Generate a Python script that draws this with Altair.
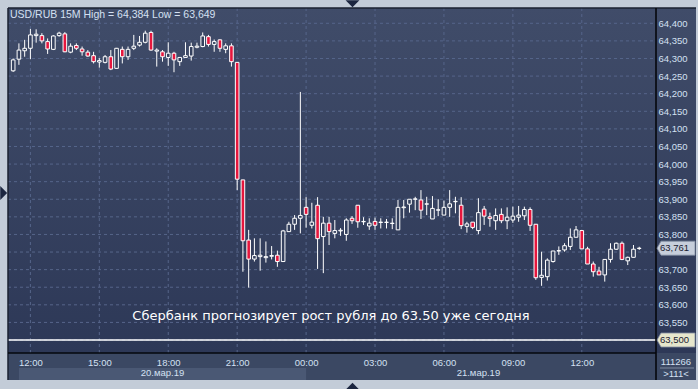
import altair as alt
import pandas as pd

# ---------------- data ----------------
IDX = list(range(-3, 107))  # 15-minute bar number, 0 = 20 Mar 12:00
OPEN = [64.265, 64.298, 64.322, 64.329, 64.365, 64.365, 64.348, 64.326, 64.365, 64.370,
        64.318, 64.337, 64.327, 64.318, 64.308, 64.290, 64.289, 64.305, 64.272, 64.326,
        64.305, 64.329, 64.338, 64.346, 64.374, 64.321, 64.319, 64.303, 64.315, 64.291,
        64.303, 64.307, 64.332, 64.334, 64.362, 64.340, 64.353, 64.326, 64.336, 64.289,
        63.955, 63.784, 63.730, 63.737, 63.734, 63.738, 63.741, 63.723, 63.808, 63.829,
        63.846, 63.877, 63.826, 63.883, 63.794, 63.832, 63.803, 63.810, 63.800, 63.846,
        63.883, 63.836, 63.824, 63.837, 63.834, 63.834, 63.831, 63.813, 63.876, 63.886,
        63.900, 63.898, 63.886, 63.844, 63.869, 63.855, 63.877, 63.893, 63.883, 63.823,
        63.835, 63.811, 63.872, 63.850, 63.839, 63.857, 63.839, 63.841, 63.849, 63.853,
        63.871, 63.829, 63.678, 63.680, 63.723, 63.753, 63.756, 63.766, 63.792, 63.811,
        63.759, 63.716, 63.696, 63.685, 63.729, 63.758, 63.775, 63.725, 63.735, 63.760]
HIGH = [64.300, 64.343, 64.353, 64.384, 64.383, 64.372, 64.357, 64.366, 64.376, 64.375,
        64.343, 64.343, 64.334, 64.324, 64.319, 64.301, 64.310, 64.324, 64.330, 64.334,
        64.334, 64.367, 64.364, 64.379, 64.379, 64.329, 64.324, 64.346, 64.319, 64.303,
        64.346, 64.345, 64.345, 64.374, 64.367, 64.354, 64.354, 64.343, 64.343, 64.289,
        63.955, 63.813, 63.789, 63.789, 63.780, 63.767, 63.754, 63.813, 63.836, 63.855,
        64.205, 63.906, 63.890, 63.906, 63.850, 63.850, 63.841, 63.818, 63.846, 63.852,
        63.883, 63.849, 63.846, 63.848, 63.846, 63.844, 63.846, 63.898, 63.898, 63.900,
        63.907, 63.926, 63.907, 63.909, 63.900, 63.896, 63.926, 63.907, 63.906, 63.836,
        63.835, 63.903, 63.881, 63.862, 63.874, 63.874, 63.877, 63.879, 63.881, 63.879,
        63.877, 63.829, 63.751, 63.732, 63.753, 63.766, 63.775, 63.817, 63.824, 63.813,
        63.765, 63.723, 63.708, 63.729, 63.775, 63.777, 63.780, 63.737, 63.770, 63.765]
LOW = [64.262, 64.282, 64.305, 64.298, 64.345, 64.343, 64.313, 64.324, 64.362, 64.318,
       64.315, 64.324, 64.308, 64.305, 64.286, 64.274, 64.286, 64.267, 64.271, 64.286,
       64.296, 64.324, 64.334, 64.343, 64.322, 64.277, 64.291, 64.279, 64.261, 64.279,
       64.303, 64.294, 64.329, 64.332, 64.334, 64.319, 64.319, 64.315, 64.277, 63.926,
       63.694, 63.649, 63.723, 63.697, 63.720, 63.729, 63.708, 63.723, 63.808, 63.813,
       63.803, 63.819, 63.817, 63.702, 63.690, 63.770, 63.789, 63.796, 63.782, 63.830,
       63.819, 63.827, 63.813, 63.813, 63.817, 63.817, 63.815, 63.813, 63.846, 63.862,
       63.869, 63.844, 63.855, 63.844, 63.852, 63.855, 63.850, 63.860, 63.815, 63.805,
       63.815, 63.801, 63.827, 63.822, 63.813, 63.832, 63.815, 63.833, 63.836, 63.841,
       63.810, 63.671, 63.654, 63.669, 63.720, 63.742, 63.751, 63.756, 63.792, 63.759,
       63.716, 63.680, 63.685, 63.666, 63.720, 63.756, 63.727, 63.713, 63.735, 63.756]
CLOSE = [64.296, 64.324, 64.329, 64.367, 64.369, 64.350, 64.327, 64.364, 64.372, 64.319,
         64.335, 64.329, 64.319, 64.307, 64.291, 64.294, 64.305, 64.270, 64.329, 64.305,
         64.326, 64.335, 64.346, 64.372, 64.324, 64.324, 64.305, 64.315, 64.296, 64.303,
         64.308, 64.334, 64.335, 64.364, 64.340, 64.348, 64.329, 64.336, 64.291, 63.957,
         63.782, 63.730, 63.740, 63.741, 63.737, 63.740, 63.723, 63.810, 63.829, 63.846,
         63.854, 63.857, 63.835, 63.788, 63.832, 63.808, 63.811, 63.812, 63.841, 63.839,
         63.836, 63.837, 63.832, 63.826, 63.835, 63.835, 63.832, 63.877, 63.878, 63.900,
         63.901, 63.869, 63.887, 63.874, 63.870, 63.877, 63.887, 63.894, 63.825, 63.830,
         63.820, 63.862, 63.852, 63.845, 63.854, 63.839, 63.849, 63.852, 63.855, 63.871,
         63.826, 63.677, 63.684, 63.727, 63.753, 63.754, 63.768, 63.792, 63.813, 63.759,
         63.716, 63.694, 63.685, 63.729, 63.758, 63.775, 63.729, 63.735, 63.758, 63.761]

TIME_TICKS = [0, 12, 24, 36, 48, 60, 72, 84, 96]
TIME_LABELS = ["12:00", "15:00", "18:00", "21:00", "00:00", "03:00", "06:00", "09:00", "12:00"]
DATE_POS = [23, 78]
DATE_LABELS = ["20.мар.19", "21.мар.19"]
DAY1_SPAN = [-2, 48]
PRICE_TICKS = [63.50, 63.55, 63.60, 63.65, 63.70, 63.75, 63.80, 63.85, 63.90, 63.95,
               64.00, 64.05, 64.10, 64.15, 64.20, 64.25, 64.30, 64.35, 64.40]
LAST_PRICE = 63.761
LAST_LABEL = "63,761"
TARGET_PRICE = 63.50
TARGET_LABEL = "63,500"
TITLE = "USD/RUB 15M High = 64,384 Low = 63,649"
NOTE = "Сбербанк прогнозирует рост рубля до 63.50 уже сегодня"
BAR_COUNT = "111266"
BAR_SHOWN = ">111<"

# labels hidden under the price boxes are not shown
AXIS_PRICES = [p for p in PRICE_TICKS
               if abs(p - LAST_PRICE) > 0.02 and abs(p - TARGET_PRICE) > 0.02]

# ---------------- styling ----------------
W, H = 648, 345
FRAME = "#c3ccd8"
RED = "#e6163d"
HOLLOW = "#35415e"
GRID = "#56658a"
LABEL = "#d4e0f2"
FONT = "Liberation Sans"
BAND = "#3b4863"
BAND2 = "#4a5874"
GRAD = {"gradient": "linear", "x1": 0, "x2": 0, "y1": 0, "y2": 1,
        "stops": [{"offset": 0, "color": "#404c69"}, {"offset": 1, "color": "#2d3857"}]}

df = pd.DataFrame({"idx": IDX, "open": OPEN, "high": HIGH, "low": LOW, "close": CLOSE})

XS = alt.Scale(domain=[-3.03, 108.05], nice=False, zero=False)
YS = alt.Scale(domain=[63.4631, 64.4435], nice=False, zero=False)
x_expr = "[" + ",".join("'%s'" % s for s in TIME_LABELS) + "][round(datum.value/12)]"
XAX = alt.Axis(values=TIME_TICKS, labelExpr=x_expr, grid=False, ticks=False, domain=False,
               labelColor=LABEL, labelFont=FONT, labelFontSize=9.5, labelPadding=4,
               labelFlush=False, title=None, zindex=2)
YAX = alt.Axis(values=AXIS_PRICES, orient="right", format=".3f",
               labelExpr="replace(datum.label, '.', ',')", grid=False, ticks=False,
               domain=False, labelColor=LABEL, labelFont=FONT, labelFontSize=9.5,
               labelPadding=2, labelFlush=False, labelOverlap=False, title=None,
               labelBaseline="middle", zindex=2)

one = alt.Data(values=[{"k": 0}])


def vrect(x, x2, y, y2, color):
    return alt.Chart(one).mark_rect(color=color).encode(
        x=alt.value(x), x2=alt.value(x2), y=alt.value(y), y2=alt.value(y2))


def vrule(x, x2, y, y2, color, width=1):
    return alt.Chart(one).mark_rule(color=color, strokeWidth=width).encode(
        x=alt.value(x), x2=alt.value(x2), y=alt.value(y), y2=alt.value(y2))


def vtext(x, y, txt, color=LABEL, size=9.5, align="center", font=FONT, weight="normal"):
    return alt.Chart(one).mark_text(text=txt, color=color, fontSize=size, align=align,
                                    baseline="middle", font=font, fontWeight=weight).encode(
        x=alt.value(x), y=alt.value(y))


def tri(x, y, path):
    return alt.Chart(one).mark_point(shape=path, size=81, filled=True, fill="#1c2640",
                                     stroke="#1c2640", opacity=1).encode(
        x=alt.value(x), y=alt.value(y))


right_panel = alt.Chart(one).mark_rect(color=GRAD).encode(
    x=alt.value(W), x2=alt.value(W + 40), y=alt.value(0), y2=alt.value(H))
plot_bg = alt.Chart(one).mark_rect(color=GRAD).encode(
    x=alt.value(0), x2=alt.value(W), y=alt.value(0), y2=alt.value(H))
axis_band = vrect(0, W + 40, H, H + 27, BAND)
day_band = alt.Chart(alt.Data(values=[{"a": DAY1_SPAN[0], "b": DAY1_SPAN[1]}])).mark_rect(
    color=BAND2).encode(x=alt.X("a:Q", scale=XS, axis=XAX), x2="b:Q",
                        y=alt.value(360), y2=alt.value(372))

grid_x = alt.Chart(pd.DataFrame({"t": TIME_TICKS})).mark_rule(
    color=GRID, strokeDash=[3, 3], strokeWidth=1).encode(
    x=alt.X("t:Q", scale=XS, axis=XAX), y=alt.value(0), y2=alt.value(H))
grid_y = alt.Chart(pd.DataFrame({"p": PRICE_TICKS})).mark_rule(
    color=GRID, strokeDash=[3, 3], strokeWidth=1).encode(
    y=alt.Y("p:Q", scale=YS, axis=YAX), x=alt.value(0), x2=alt.value(W))

target_line = alt.Chart(pd.DataFrame({"p": [TARGET_PRICE]})).mark_rule(
    color="white", strokeWidth=1.5).encode(
    y=alt.Y("p:Q", scale=YS, axis=YAX), x=alt.value(0), x2=alt.value(W))

note = vtext(323, 307.5, NOTE, color="white", size=13, font="DejaVu Sans")

wicks = alt.Chart(df).mark_rule(color="white", strokeWidth=1, clip=True).encode(
    x=alt.X("idx:Q", scale=XS, axis=XAX),
    y=alt.Y("low:Q", scale=YS, axis=YAX), y2="high:Q")
bodies = alt.Chart(df).mark_bar(size=3.6, stroke="white", strokeWidth=1, clip=True).encode(
    x=alt.X("idx:Q", scale=XS, axis=XAX),
    y=alt.Y("open:Q", scale=YS, axis=YAX), y2="close:Q",
    fill=alt.condition(alt.datum.close >= alt.datum.open, alt.value(HOLLOW), alt.value(RED)))

borders = (vrule(0, W + 40, 0, 0, "#1a2030", 1.5)
           + vrule(0, 0, 0, H + 27, "#1a2030", 1.5)
           + vrule(0, W, H, H, "#05070c", 1.6)
           + vrule(W, W, 0, H + 27, "#05070c", 1.6))

title = vtext(2, 6.5, TITLE, align="left", size=10.5)
dates = alt.Chart(pd.DataFrame({"d": DATE_POS, "t": DATE_LABELS})).mark_text(
    color=LABEL, fontSize=9.5, font=FONT, baseline="middle").encode(
    x=alt.X("d:Q", scale=XS, axis=XAX), y=alt.value(365.3), text="t:N")

CALLOUT = "M-1,0L-0.79,-0.37L1,-0.37L1,0.37L-0.79,0.37Z"
callouts = alt.Chart(pd.DataFrame({"p": [LAST_PRICE, TARGET_PRICE],
                                   "f": ["#c6cedb", "#e6e6cc"],
                                   "t": [LAST_LABEL, TARGET_LABEL]}))
callout_box = callouts.mark_point(shape=CALLOUT, size=1444, filled=True, opacity=1,
                                  stroke="#7f8aa0", strokeWidth=0.8).encode(
    x=alt.value(668), y=alt.Y("p:Q", scale=YS, axis=YAX),
    fill=alt.Fill("f:N", scale=None))
callout_txt = callouts.mark_text(align="left", baseline="middle", color="#1a2030",
                                 fontSize=9.5, font=FONT).encode(
    x=alt.value(652), y=alt.Y("p:Q", scale=YS, axis=YAX), text="t:N")

corner = (vtext(668, 354, BAR_COUNT) + vtext(668, 366, BAR_SHOWN)
          + vrule(652, 686, 360, 360, "#7f8aa0", 1))

tris = (tri(344.5, -4.5, "M-1,-0.5L1,-0.5L0,0.5Z")
        + tri(344.5, 378.5, "M-1,0.5L1,0.5L0,-0.5Z")
        + tri(-4.5, 185, "M-0.5,-1L0.5,0L-0.5,1Z"))

chart = alt.layer(
    right_panel, plot_bg, axis_band, day_band, grid_x, grid_y, target_line, note,
    wicks, bodies, borders, title, dates, callout_box, callout_txt, corner, tris
).properties(
    width=W, height=H,
    padding={"left": 8, "top": 8, "right": 42, "bottom": 36},
    autosize=alt.AutoSizeParams(type="none"),
    background=FRAME,
).configure_view(stroke="transparent")

chart.save("out.html", embed_options={"renderer": "svg", "actions": False})
